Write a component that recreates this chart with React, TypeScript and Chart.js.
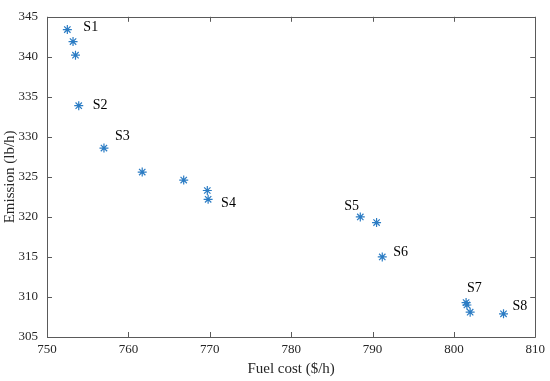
import React, { useEffect, useRef } from "react";
import { Chart, registerables } from "chart.js";

Chart.register(...registerables);

const fuelCost = [752.5, 753.2, 753.5, 753.9, 757.0, 761.7, 766.8, 769.7, 769.8, 788.5, 790.5, 791.2, 801.5, 801.6, 802.0, 806.1];
const emission = [343.4, 341.9, 340.2, 333.9, 328.6, 325.6, 324.6, 323.3, 322.2, 320.0, 319.3, 315.0, 309.3, 309.0, 308.1, 307.9];

const labelNames = ["S1", "S2", "S3", "S4", "S5", "S6", "S7", "S8"];
const labelPointIndex = [0, 3, 4, 8, 9, 11, 12, 15];
const labelDx = [16, 14, 11, 13, -16, 11, 1, 9];
const labelDy = [-2, 0, -12, 4, -11, -5, -14, -7];

const xMin = 750, xMax = 810, xStep = 10;
const yMin = 305, yMax = 345, yStep = 5;

const SERIF = "'Liberation Serif', 'Times New Roman', serif";
const AXIS_COLOR = "#5a5a5a";
const TEXT_COLOR = "#262626";
const MARKER_COLOR = "#2b7cc4";

const boxPlugin = {
  id: "boxTicks",
  afterDraw(chart: any) {
    const { ctx, chartArea } = chart;
    const { left, right, top, bottom } = chartArea;
    const xs = chart.scales.x;
    const ys = chart.scales.y;
    const tl = 5;
    ctx.save();
    ctx.strokeStyle = AXIS_COLOR;
    ctx.lineWidth = 1;
    ctx.beginPath();
    ctx.rect(Math.round(left) + 0.5, Math.round(top) + 0.5, Math.round(right - left), Math.round(bottom - top));
    ctx.stroke();
    ctx.beginPath();
    xs.ticks.forEach((t: any) => {
      const px = Math.round(xs.getPixelForValue(t.value)) + 0.5;
      ctx.moveTo(px, bottom);
      ctx.lineTo(px, bottom - tl);
      ctx.moveTo(px, top);
      ctx.lineTo(px, top + tl);
    });
    ys.ticks.forEach((t: any) => {
      const py = Math.round(ys.getPixelForValue(t.value)) + 0.5;
      ctx.moveTo(left, py);
      ctx.lineTo(left + tl, py);
      ctx.moveTo(right, py);
      ctx.lineTo(right - tl, py);
    });
    ctx.stroke();

    ctx.fillStyle = "#000000";
    ctx.font = `14px ${SERIF}`;
    ctx.textAlign = "left";
    ctx.textBaseline = "middle";
    labelNames.forEach((name, i) => {
      const idx = labelPointIndex[i];
      const px = xs.getPixelForValue(fuelCost[idx]);
      const py = ys.getPixelForValue(emission[idx]);
      ctx.fillText(name, px + labelDx[i], py + labelDy[i]);
    });
    ctx.restore();
  },
};

export default function App() {
  const ref = useRef<HTMLCanvasElement | null>(null);
  useEffect(() => {
    if (!ref.current) return;
    const data = fuelCost.map((x, i) => ({ x, y: emission[i] }));
    const chart = new Chart(ref.current, {
      type: "scatter",
      data: {
        datasets: [
          {
            data,
            pointStyle: "star",
            pointRadius: 4.5,
            pointBorderWidth: 1.2,
            borderColor: MARKER_COLOR,
            backgroundColor: MARKER_COLOR,
            pointBorderColor: MARKER_COLOR,
          },
        ],
      },
      options: {
        responsive: false,
        animation: false,
        devicePixelRatio: 1,
        layout: { padding: { left: 0, right: 12, top: 9, bottom: 0 } },
        plugins: { legend: { display: false }, tooltip: { enabled: false } },
        scales: {
          x: {
            type: "linear",
            min: xMin,
            max: xMax,
            afterFit: (s: any) => { s.height = 44; },
            ticks: { stepSize: xStep, color: TEXT_COLOR, font: { family: SERIF, size: 13 }, padding: 5 },
            grid: { display: false, drawTicks: false },
            border: { display: false },
            title: { display: true, text: "Fuel cost ($/h)", color: TEXT_COLOR, font: { family: SERIF, size: 15 }, padding: { top: 0, bottom: 3 } },
          },
          y: {
            type: "linear",
            min: yMin,
            max: yMax,
            afterFit: (s: any) => { s.width = 47; },
            ticks: { stepSize: yStep, color: TEXT_COLOR, font: { family: SERIF, size: 13 }, padding: 9 },
            grid: { display: false, drawTicks: false },
            border: { display: false },
            title: { display: true, text: "Emission (lb/h)", color: TEXT_COLOR, font: { family: SERIF, size: 15 }, padding: { top: 1, bottom: 0 } },
          },
        },
      },
      plugins: [boxPlugin],
    });
    return () => chart.destroy();
  }, []);
  return (
    <div style={{ position: "absolute", left: 0, top: 0, width: 550, height: 381, background: "#fff" }}>
      <canvas ref={ref} width={550} height={381} style={{ display: "block" }} />
    </div>
  );
}
